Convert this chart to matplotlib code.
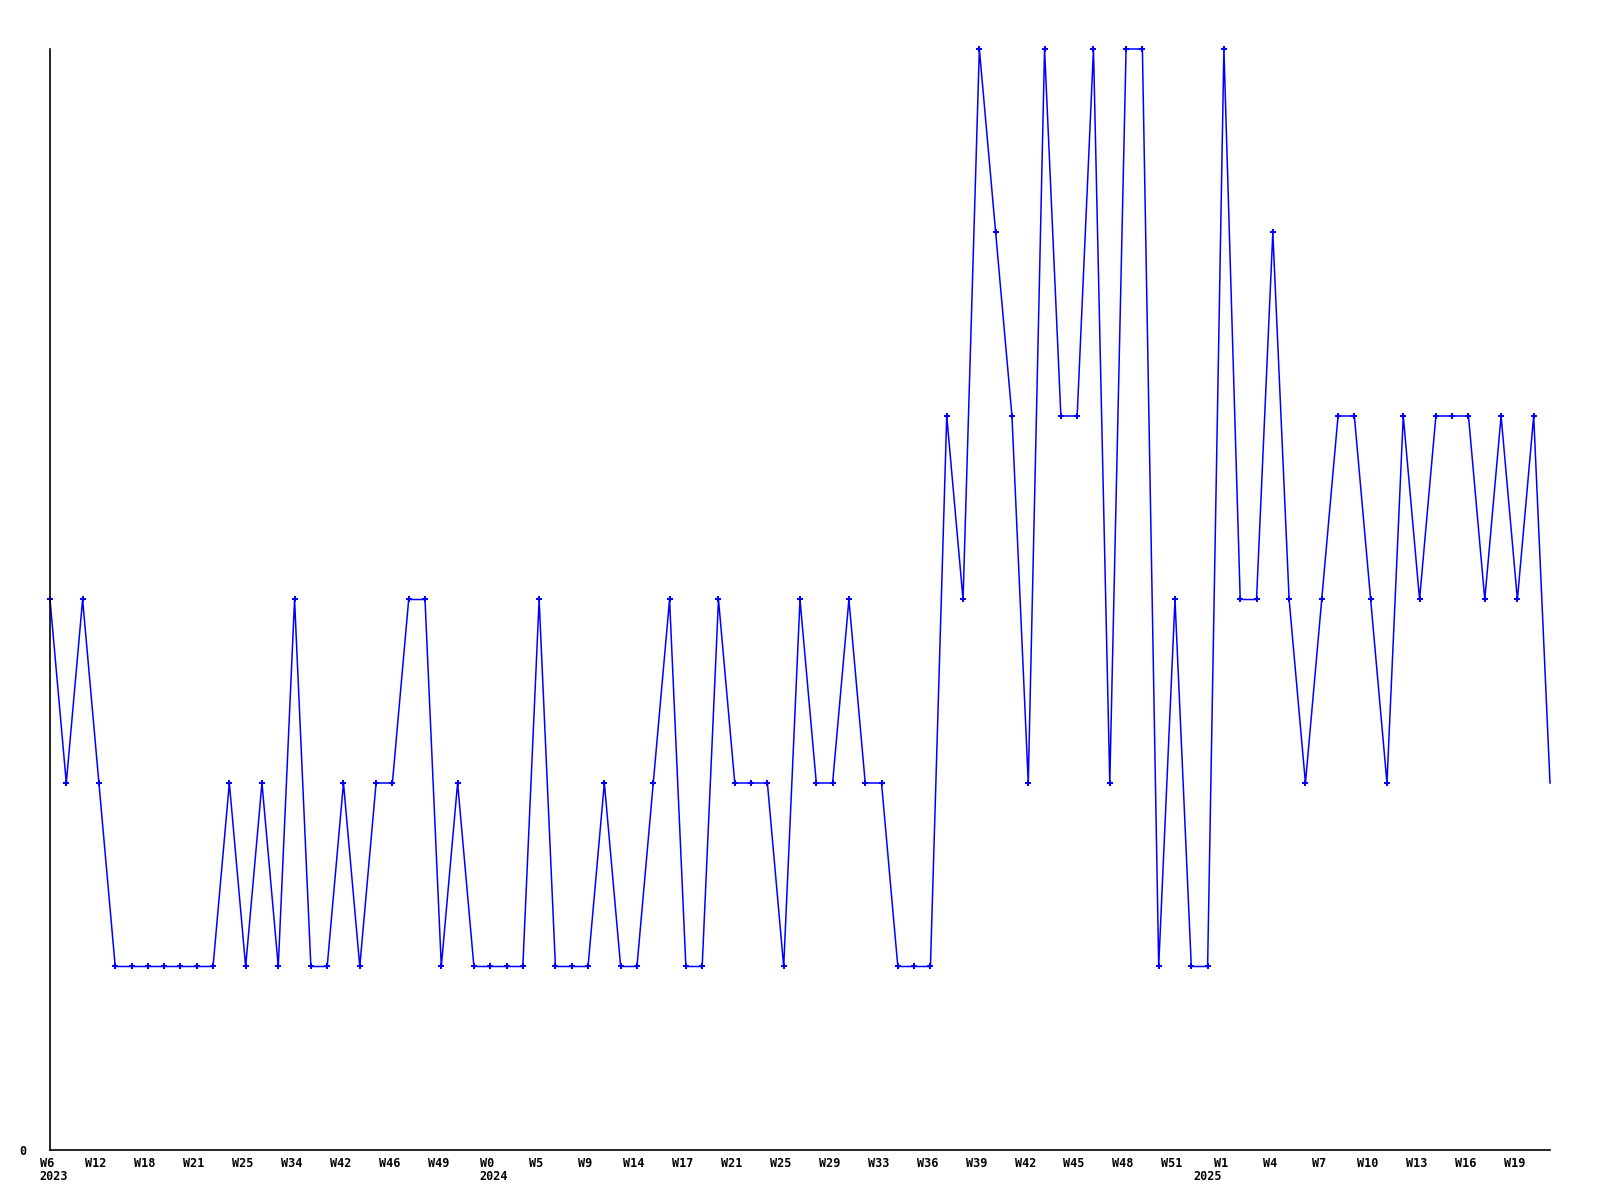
import matplotlib
matplotlib.use("Agg")
import matplotlib.pyplot as plt
import matplotlib.transforms as mtransforms

# weekly values, one per plotted point
values = [3, 2, 3, 2, 1, 1, 1, 1, 1, 1, 1, 2, 1, 2, 1, 3, 1, 1, 2, 1,
          2, 2, 3, 3, 1, 2, 1, 1, 1, 1, 3, 1, 1, 1, 2, 1, 1, 2, 3, 1,
          1, 3, 2, 2, 2, 1, 3, 2, 2, 3, 2, 2, 1, 1, 1, 4, 3, 6, 5, 4,
          2, 6, 4, 4, 6, 2, 6, 6, 1, 3, 1, 1, 6, 3, 3, 5, 3, 2, 3, 4,
          4, 3, 2, 4, 3, 4, 4, 4, 3, 4, 3, 4, 2]

# x tick labels, every third point
week_labels = ["W6", "W12", "W18", "W21", "W25", "W34", "W42", "W46", "W49", "W0",
               "W5", "W9", "W14", "W17", "W21", "W25", "W29", "W33", "W36", "W39",
               "W42", "W45", "W48", "W51", "W1", "W4", "W7", "W10", "W13", "W16", "W19"]
years = ["2023", "2024", "2025"]
year_pos = [0.2, 27.2, 71.0]

plt.rcParams['font.family'] = ['DejaVu Sans Mono']
plt.rcParams['font.weight'] = 'bold'
plt.rcParams['font.size'] = 8.5

fig = plt.figure(figsize=(16, 12), dpi=100)
ax = fig.add_axes([0.03125, 0.04167, 0.9375, 0.9175])

x = list(range(len(values)))
ax.plot(x, values, color='#0000ff', lw=1.1, marker='P', ms=4.5, mew=0,
        markevery=list(range(len(values) - 1)), clip_on=False)

ax.set_xlim(0, len(values) - 1)
ax.set_ylim(0, 6)

ax.set_xticks(range(0, len(values), 3))
ax.set_xticklabels(week_labels)
ax.set_yticks([0])
ax.set_yticklabels(["0"])
ax.tick_params(axis='x', length=0, pad=5)
ax.tick_params(axis='y', length=0, pad=17)

# labels sit a little left of their point in the original
shift = mtransforms.ScaledTranslation(-0.03, 0, fig.dpi_scale_trans)
for lab in ax.get_xticklabels():
    lab.set_transform(lab.get_transform() + shift)

for s in ['top', 'right']:
    ax.spines[s].set_visible(False)
for s in ['left', 'bottom']:
    ax.spines[s].set_linewidth(1.2)
    ax.spines[s].set_color('black')

trans = mtransforms.blended_transform_factory(ax.transData, ax.transAxes)
for yr, p in zip(years, year_pos):
    ax.text(p, -0.0245, yr, transform=trans, ha='center', va='center')

fig.savefig("out.png", dpi=100, facecolor='white')
